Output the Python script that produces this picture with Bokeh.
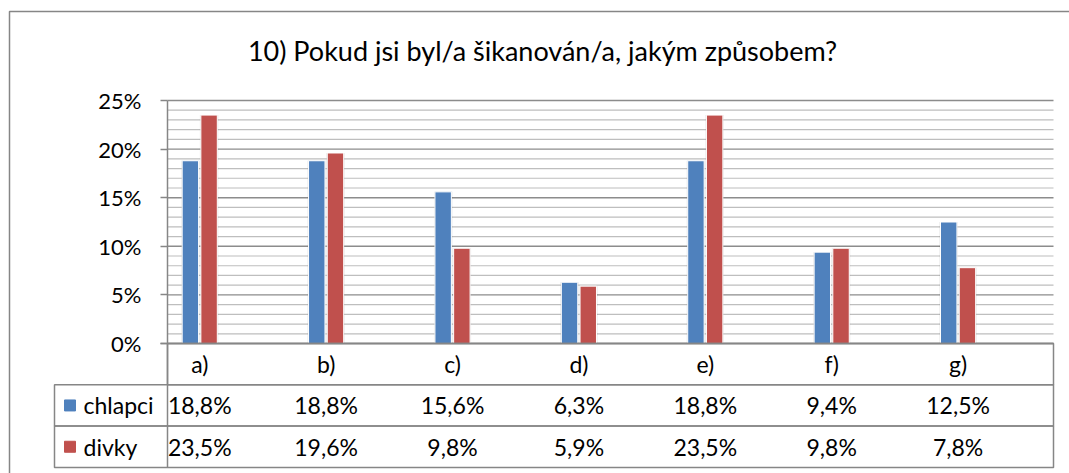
import numpy as np
from bokeh.plotting import figure
from bokeh.models import Range1d, FixedTicker, PrintfTickFormatter, ColumnDataSource
from bokeh.core.properties import value
from bokeh.embed import file_html
from bokeh.resources import INLINE

# ---- data ----
categories = ["a)", "b)", "c)", "d)", "e)", "f)", "g)"]
series_names = ["chlapci", "divky"]
chlapci = [18.8, 18.8, 15.6, 6.3, 18.8, 9.4, 12.5]
divky = [23.5, 19.6, 9.8, 5.9, 23.5, 9.8, 7.8]
y_major = [0, 5, 10, 15, 20, 25]
y_minor = [v for v in range(0, 26) if v % 5 != 0]
title_text = "10) Pokud jsi byl/a šikanován/a, jakým způsobem?"

# ---- style ----
BLUE = "#4F81BD"
RED = "#C0504D"
GRID_MAJOR = "#8C8C8C"
GRID_MINOR = "#BEBEBE"
LINE = "#868686"
FONT = "Lato"
FS_AX = "22px"
FS_TB = "23px"

W, H = 1069, 473
# layout: pixel scale of the plotting area
AX_PX, RIGHT_PX = 167, 1053      # y axis and right edge of plot area (px)
ZERO_PX, TOP_PX = 343, 100       # 0% and 25% (px)
SX = (RIGHT_PX - AX_PX) / 7.01   # px per category unit
SY = (ZERO_PX - TOP_PX) / 25.0   # px per percent
X_AXIS = -0.255
X_RIGHT = X_AXIS + (RIGHT_PX - AX_PX) / SX


def xd(px):
    return X_AXIS + (px - AX_PX) / SX


def yd(py):
    return (ZERO_PX - py) / SY


ROW = 41.3 / SY   # table row height in data units

p = figure(width=W, height=H, output_backend="svg", toolbar_location=None,
           x_range=Range1d(xd(0), xd(W)), y_range=Range1d(yd(H), yd(0)),
           min_border=0, tools="")
p.outline_line_color = None
p.background_fill_color = "white"
p.border_fill_color = "white"
p.xaxis.visible = False
p.xgrid.visible = False
p.ygrid.visible = False

# y axis (library axis, pinned at the category-axis origin)
yax = p.yaxis[0]
yax.fixed_location = X_AXIS
yax.bounds = (-3 * ROW, 25)
yax.ticker = FixedTicker(ticks=y_major, minor_ticks=[])
yax.formatter = PrintfTickFormatter(format="%d%%")
yax.axis_line_color = LINE
yax.axis_line_width = 1.5
yax.major_tick_line_color = LINE
yax.major_tick_line_width = 1.5
yax.major_tick_out = 7
yax.major_tick_in = 0
yax.minor_tick_out = 0
yax.minor_tick_in = 0
yax.major_label_standoff = 19
yax.major_label_text_font = FONT
yax.major_label_text_font_size = FS_AX
yax.major_label_text_color = "#000000"

# grid lines
n_min = len(y_minor)
p.segment(x0=[X_AXIS] * n_min, x1=[X_RIGHT] * n_min, y0=y_minor, y1=y_minor,
          line_color=GRID_MINOR, line_width=1.2)
n_maj = len(y_major)
p.segment(x0=[X_AXIS] * n_maj, x1=[X_RIGHT] * n_maj, y0=y_major, y1=y_major,
          line_color=GRID_MAJOR, line_width=1.4)

# bars
x = np.arange(len(categories))
off = 0.074
bw = 0.13
src = ColumnDataSource(dict(xb=x - off, xr=x + off, ch=chlapci, dv=divky))
shadow = 2.0 / SX
p.vbar(x="xb", top="ch", bottom=0, width=bw + shadow, source=src,
       fill_color="#000000", fill_alpha=0.10, line_color=None)
p.vbar(x="xr", top="dv", bottom=0, width=bw + shadow, source=src,
       fill_color="#000000", fill_alpha=0.10, line_color=None)
p.vbar(x="xb", top="ch", bottom=0, width=bw, source=src, fill_color=BLUE,
       line_color="white", line_width=1)
p.vbar(x="xr", top="dv", bottom=0, width=bw, source=src, fill_color=RED,
       line_color="white", line_width=1)

# data table
p.quad(left=[X_AXIS, xd(54), xd(54)], right=[X_RIGHT] * 3,
       top=[0, -ROW, -2 * ROW], bottom=[-ROW, -2 * ROW, -3 * ROW],
       fill_alpha=0, line_color=LINE, line_width=1.5)
p.segment(x0=[xd(160)], x1=[X_RIGHT], y0=[0], y1=[0], line_color=LINE,
          line_width=1.5)

p.text(x=x, y=[-0.5 * ROW] * len(x), text=categories,
       text_font=value(FONT), text_font_size=FS_TB, text_align="center",
       text_baseline="middle", text_color="black")


def fmt(v):
    return f"{v:.1f}".replace(".", ",") + "%"


sq = 5.5
for i, (vals, col) in enumerate([(chlapci, BLUE), (divky, RED)]):
    yc = -(1.5 + i) * ROW
    p.text(x=x, y=[yc] * len(x), text=[fmt(v) for v in vals],
           text_font=value(FONT), text_font_size=FS_TB, text_align="center",
           text_baseline="middle", text_color="black")
    p.quad(left=[xd(64)], right=[xd(75)], top=[yc + sq / SY],
           bottom=[yc - sq / SY], fill_color=col, line_color=col)
    p.text(x=[xd(83)], y=[yc], text=[series_names[i]],
           text_font=value(FONT), text_font_size=FS_TB, text_align="left",
           text_baseline="middle", text_color="black")

# title
p.text(x=[xd(542)], y=[yd(50)], text=[title_text], text_font=value(FONT),
       text_font_size="27px", text_align="center", text_baseline="middle",
       text_color="#000000")

# outer chart border
p.quad(left=[xd(9)], right=[xd(W + 50)], top=[yd(11)], bottom=[yd(H + 50)],
       fill_alpha=0, line_color=LINE, line_width=1.5)

open("out.html", "w").write(file_html(p, INLINE))
